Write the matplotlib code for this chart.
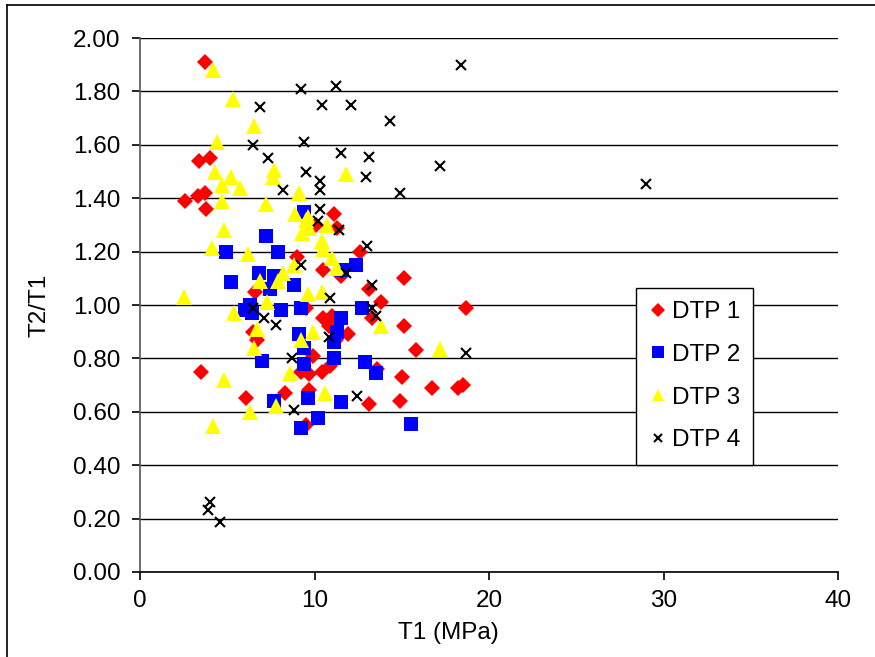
import matplotlib
matplotlib.use("Agg")
import matplotlib.pyplot as plt
from matplotlib.lines import Line2D

plt.rcParams['font.family'] = ['Liberation Sans', 'DejaVu Sans']

# DTP 1 (red diamonds)
dtp1_x = [3.7, 2.6, 3.3, 3.7, 3.4, 4.0, 3.8, 11.1, 10.1, 11.3, 12.6, 9.0, 10.5, 11.5,
          15.1, 13.1, 13.8, 9.5, 18.7, 10.5, 13.3, 10.8, 11.9, 15.1, 11.2, 9.9, 15.8,
          9.2, 9.7, 10.4, 10.9, 13.6, 15.0, 16.7, 18.2, 18.5, 13.1, 14.9, 9.7, 8.3,
          6.1, 9.5, 3.5, 6.6, 6.5, 6.7, 11.0]
dtp1_y = [1.91, 1.39, 1.41, 1.42, 1.54, 1.55, 1.36, 1.34, 1.30, 1.29, 1.20, 1.18, 1.13, 1.11,
          1.10, 1.06, 1.01, 0.99, 0.99, 0.95, 0.95, 0.92, 0.89, 0.92, 0.87, 0.81, 0.83,
          0.75, 0.74, 0.75, 0.77, 0.76, 0.73, 0.69, 0.69, 0.70, 0.63, 0.64, 0.68, 0.67,
          0.65, 0.55, 0.75, 1.05, 0.90, 0.87, 0.96]

# DTP 2 (blue squares)
dtp2_x = [9.4, 7.2, 4.9, 7.9, 5.2, 6.8, 7.7, 7.45, 8.8, 6.0, 6.3, 6.4, 8.1, 9.2,
          12.4, 11.6, 12.7, 11.5, 9.1, 11.3, 11.1, 9.4, 11.1, 9.4, 7.0, 12.9, 13.5,
          9.65, 11.5, 10.2, 9.2, 15.5, 7.7]
dtp2_y = [1.35, 1.26, 1.20, 1.20, 1.085, 1.12, 1.11, 1.06, 1.075, 0.98, 1.00, 0.97, 0.98, 0.99,
          1.15, 1.13, 0.99, 0.95, 0.89, 0.90, 0.86, 0.84, 0.80, 0.78, 0.79, 0.785, 0.745,
          0.65, 0.635, 0.575, 0.54, 0.555, 0.64]

# DTP 3 (yellow triangles)
dtp3_x = [4.2, 5.3, 6.55, 4.4, 4.3, 5.2, 4.7, 5.7, 4.7, 7.2, 7.7, 7.6, 9.1, 8.9,
          11.8, 9.6, 4.8, 4.1, 6.2, 9.5, 9.7, 9.3, 10.4, 10.5, 11.0, 11.3, 8.2, 7.9,
          6.9, 8.8, 2.5, 5.4, 7.3, 9.6, 10.4, 6.7, 9.9, 9.2, 6.55, 8.6, 4.8, 10.6,
          7.8, 6.3, 4.2, 13.8, 17.2, 10.7]
dtp3_y = [1.88, 1.77, 1.67, 1.61, 1.50, 1.48, 1.45, 1.44, 1.39, 1.38, 1.505, 1.48, 1.42, 1.34,
          1.49, 1.33, 1.28, 1.215, 1.19, 1.32, 1.29, 1.27, 1.24, 1.21, 1.175, 1.14, 1.12, 1.09,
          1.09, 1.15, 1.03, 0.97, 1.01, 1.04, 1.05, 0.91, 0.90, 0.87, 0.84, 0.745, 0.72, 0.67,
          0.62, 0.60, 0.545, 0.92, 0.835, 1.30]

# DTP 4 (black crosses)
dtp4_x = [18.4, 9.2, 11.2, 10.4, 12.1, 14.3, 9.4, 11.5, 13.1, 17.2, 9.5, 12.95, 10.3, 10.3,
          8.2, 14.9, 10.3, 10.2, 6.9, 6.5, 7.35, 29.0, 11.4, 9.2, 10.9, 6.5, 7.1, 7.8,
          10.8, 8.7, 13.0, 11.8, 13.3, 13.3, 13.5, 18.7, 12.45, 8.8, 4.0, 3.9, 4.6]
dtp4_y = [1.90, 1.81, 1.82, 1.75, 1.75, 1.69, 1.61, 1.57, 1.555, 1.52, 1.50, 1.48, 1.465, 1.43,
          1.43, 1.42, 1.36, 1.315, 1.74, 1.60, 1.55, 1.455, 1.28, 1.15, 1.025, 0.99, 0.95, 0.925,
          0.88, 0.80, 1.22, 1.12, 1.075, 0.99, 0.96, 0.82, 0.66, 0.605, 0.263, 0.232, 0.186]

fig = plt.figure(figsize=(8.75, 6.57), dpi=100)
ax = fig.add_axes([0.16, 0.1294, 0.798, 0.8127])

ax.plot(dtp1_x, dtp1_y, 'D', color='#ff0000', markersize=8, markeredgewidth=0, label='DTP 1')
ax.plot(dtp2_x, dtp2_y, 's', color='#0000ff', markersize=10, markeredgewidth=0, label='DTP 2')
ax.plot(dtp3_x, dtp3_y, '^', color='#ffff00', markersize=11, markeredgewidth=0, label='DTP 3')
ax.plot(dtp4_x, dtp4_y, 'x', color='black', markersize=7, markeredgewidth=1.5, label='DTP 4')

ax.set_xlim(0, 40)
ax.set_ylim(0, 2.0)
ax.set_xticks([0, 10, 20, 30, 40])
ax.set_yticks([i * 0.2 for i in range(11)])
ax.set_yticklabels([f"{i * 0.2:.2f}" for i in range(11)])
ax.yaxis.grid(True, color='black', linewidth=1.0)
ax.set_axisbelow(True)
for s in ['top', 'right']:
    ax.spines[s].set_visible(False)
ax.spines['left'].set_color('#555555')
ax.spines['left'].set_linewidth(1.2)
ax.spines['bottom'].set_linewidth(1.2)
ax.tick_params(axis='both', labelsize=17.5, length=6, width=1.2, direction='out')
ax.tick_params(axis='y', pad=8)
ax.tick_params(axis='x', pad=7)

ax.set_xlabel('T1 (MPa)', fontsize=17.5)
ax.xaxis.set_label_coords(0.441, -0.094)
ax.set_ylabel('T2/T1', fontsize=17.5, labelpad=16)

leg = ax.legend(loc='upper left', bbox_to_anchor=(0.711, 0.532), fontsize=17.5,
                frameon=True, fancybox=False, edgecolor='black', framealpha=1,
                handletextpad=0.2, handlelength=0.7, labelspacing=0.85, borderpad=0.55,
                borderaxespad=0, markerscale=0.85)
leg.get_frame().set_linewidth(1.0)

# outer frame of the chart area
fig.add_artist(Line2D([7 / 875, 7 / 875], [0, 1 - 5 / 657], color='black', linewidth=1.2))
fig.add_artist(Line2D([7 / 875, 1], [1 - 5 / 657, 1 - 5 / 657], color='black', linewidth=1.2))

fig.savefig('out.png', dpi=100)
